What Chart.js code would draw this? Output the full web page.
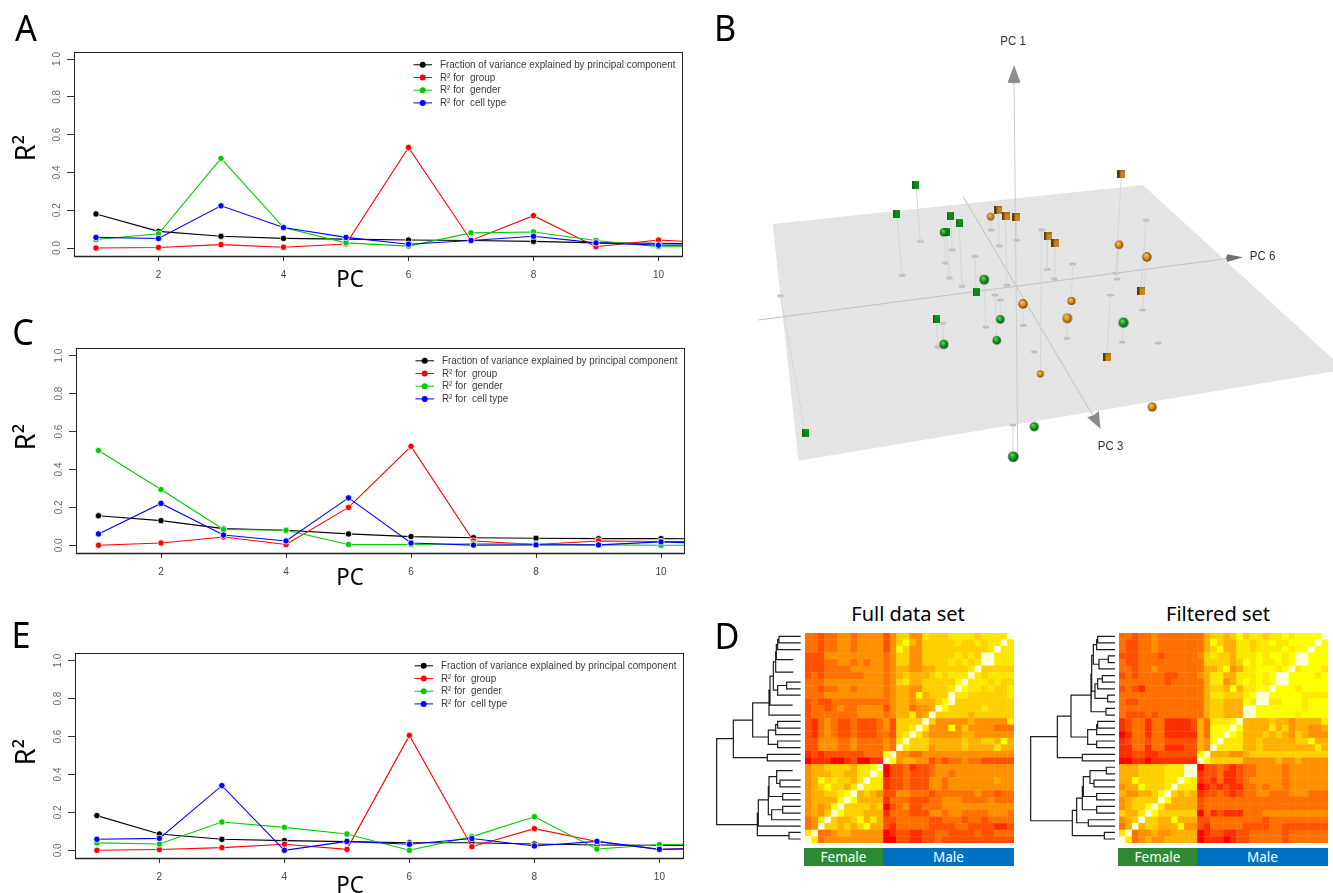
<!DOCTYPE html>
<html><head><meta charset="utf-8">
<style>
html,body{margin:0;padding:0;background:#fff;overflow:hidden}
#page{position:relative;width:1333px;height:893px;overflow:hidden;background:#fff}
canvas{position:absolute;display:block}
canvas.soft{filter:blur(.35px)}
.t{position:absolute;white-space:nowrap;font-family:"Noto Sans",sans-serif;color:#000;line-height:1;transform-origin:center}
.strip{position:absolute;color:#fff;font-family:"Noto Sans",sans-serif;font-size:13.5px;display:flex;align-items:center;justify-content:center}
</style>
<script src="https://cdn.jsdelivr.net/npm/chart.js@4/dist/chart.umd.js"></script>
</head><body><div id="page"></div>
<script>
/* ---------- line panels ---------- */
const pcs=[1,2,3,4,5,6,7,8,9,10,11];
const xTicks=[2,4,6,8,10];
const yTicks=[0,0.2,0.4,0.6,0.8,1];
const seriesNames=["Fraction of variance explained by principal component","R\u00B2 for  group","R\u00B2 for  gender","R\u00B2 for  cell type"];
const seriesColors=["#000000","#ff0000","#00cd00","#0000ff"];

const aBlack=[.18,.088,.062,.051,.047,.042,.04,.035,.027,.025,.022];
const aRed=[0,.003,.018,.004,.021,.532,.04,.171,.007,.042,.025];
const aGreen=[.045,.075,.474,.108,.027,.01,.08,.085,.04,.007,.005];
const aBlue=[.056,.05,.223,.108,.056,.02,.04,.062,.027,.015,.015];

const cBlack=[.156,.13,.088,.079,.06,.046,.04,.037,.035,.035,.033];
const cRed=[0,.012,.044,.004,.2,.522,.023,.004,.023,.02,.018];
const cGreen=[.5,.294,.083,.079,.004,.004,.008,.007,.002,0,0];
const cBlue=[.06,.221,.054,.023,.25,.012,.001,.002,.002,.018,.008];

const eBlack=[.183,.086,.058,.051,.046,.04,.04,.033,.028,.026,.025];
const eRed=[0,.004,.014,.032,.005,.606,.019,.114,.046,.005,.012];
const eGreen=[.039,.033,.149,.121,.086,0,.072,.177,.007,.03,.035];
const eBlue=[.058,.063,.341,0,.047,.032,.062,.023,.047,.005,.012];

/* ---------- 3D scatter, read in the projected plane: [x, y, shadowX, shadowY, radius] ---------- */
const planeOutline=[[180,612],[1097,495],[1597,1049],[244,1322],[180,612]];
const pc1Axis=[[787,1300],[778,180]];
const pc6Axis=[[145,900],[1310,715]];
const pc3Axis=[[652,530],[975,1190]];
const pc1Head=[[778,135],[794,188],[778,190],[762,188],[778,135]];
const pc6Head=[[1345,712],[1306,726],[1303,714],[1306,703],[1345,712]];
const pc3Head=[[992,1226],[959,1192],[975,1186],[988,1173],[992,1226]];
const greenCubes=[[535,496,546,664],[487,581,501,766],[620,588,625,689],[642,610,649,799],[610,637,618,773],[684,816,681,709],[586,898,589,980],[261,1240,199,827]];
const greenSpheres=[[604,637,608,728,4.1],[704,779,708,921,4.8],[604,973,601,910,4.5],[735,961,731,825,4.3],[744,898,744,840,4.3],[1049,908,1046,966,4.9],[828,1220,828,995,4.5],[776,1310,775,1215,5.3]];
const orangeCubes=[[1044,462,1030,759],[739,570,741,677],[757,589,760,795],[783,591,784,660],[861,649,860,748],[880,669,878,776],[1092,812,1105,601],[1008,1011,1017,825]];
const orangeSpheres=[[720,590,721,629,3.7],[1038,674,1033,777,4.3],[1107,711,1096,870,4.7],[800,852,801,916,4.7],[920,843,923,732,4.0],[910,895,909,955,4.8],[843,1062,846,629,3.4],[1120,1161,1135,969,4.5]];
const noDropLine=[828,1120];

/* ---------- heatmaps: one string per row, each digit a colour level ---------- */
const heatColors=["#ff0000","#ff2e00","#ff5000","#ff7000","#ff9000","#ffb000","#ffd000","#ffe800","#ffff00","#ffffd4"];
const fullRows=[
"33233443444424664476667777677779",
"33233443444424685466666766767797",
"33233443444424864466666666667977",
"22244444444434664466666767699777",
"22233443434434664466667676799777",
"22233334444434554455666667966666",
"23233333344434565556767779767777",
"33344444444434675566666897776766",
"33233443444434554466667987767667",
"33344444444434554856669776666667",
"23223333333334554555689666666666",
"23323433444424553445986666676666",
"23333333444434557459666665666666",
"21343223222342666696444445444447",
"21343223222342667974448464444333",
"21343223222332679754444455444444",
"22444334333343796665555565566585",
"22444334333343976664555565555755",
"12122222233389443344444444444444",
"01110012001198455442323343322222",
"45566665778902231223444444444444",
"45556655779802232223443444444444",
"45867665797712232224434444444544",
"45686657977712232224434444444444",
"45566789565422443332333333433233",
"45555898555513332223344433334333",
"45458966665602342233344444444444",
"45469866655513332224434433334443",
"34796556857522333332233323323333",
"34966565685521333332222332222112",
"79334554444401221122332222322333",
"97344444444400221122322222222222"];
const filteredRows=[
"33233433333335665686776778788889",
"32233433333335865577677877888898",
"32233433333335685577677778788988",
"22233323333346766577787887899888",
"32233333333336666568787787899888",
"33233433333335568457788878978887",
"23233332233345775577787899888878",
"33333332333335774578787899888888",
"23213333333335665857788988878888",
"33333333333335776667899888887777",
"32233333333335665558799778887888",
"33333333333335665559988888887888",
"32223233333335665559988888878888",
"12331331111253777895555655455557",
"12331331111253888985555756455445",
"01331331111153889875556565465444",
"12332332222254897775565555566855",
"11331331112254977775565555555575",
"11221122222289555445666666666666",
"00110111111198666664444454454444",
"55566667779902232123344443444444",
"55566667779912231123344443444444",
"55866667798712131123444443444444",
"45586667977701212113343443444444",
"54455689656512232123344333444333",
"45666698555523333333333333333333",
"45668975555523333333333333333333",
"65579866666603121113334444444444",
"45696655855522333333332333333333",
"35956655584421333332222332222222",
"79344544555501221122333332333333",
"97345445555501110122333332333333"];

/* ---------- dendrograms: each merge is [child A height, child A row, merge height, child B row, child B height] ---------- */
const fullTree=[[272,108,207,128,272],[207,118,203,148,272],[203,133,199,178,250],[199,155,197,216,250],[272,246,230,266,272],[230,256,203,285,272],[197,185,190,270,203],[190,228,180,315,248],[180,270,177,345,272],[272,364,203,384,272],[203,374,197,404,272],[272,423,203,443,272],[197,390,175,433,203],[177,308,128,411,175],[272,463,172,483,272],[128,360,70,473,172],[272,541,210,561,272],[248,512,200,551,210],[272,581,218,600,272],[200,530,177,590,218],[272,620,218,640,272],[218,630,185,660,272],[177,560,175,645,185],[175,600,145,679,272],[272,698,237,718,272],[145,640,142,708,237],[70,416,20,675,142]];
const filteredTree=[[270,108,218,128,270],[218,118,215,148,270],[270,167,250,187,270],[250,177,222,206,270],[215,133,205,192,222],[270,226,232,246,270],[232,236,218,266,270],[270,285,248,305,270],[218,251,210,295,248],[205,165,200,273,210],[270,325,243,345,270],[200,220,198,335,243],[270,364,218,384,270],[218,374,215,404,270],[270,423,215,443,270],[215,389,188,433,215],[198,285,138,411,188],[270,463,172,483,270],[138,348,97,473,172],[270,502,244,522,270],[270,541,207,561,270],[244,512,195,551,207],[270,581,215,600,270],[195,530,175,590,215],[270,620,215,640,270],[175,560,172,630,215],[270,660,190,679,270],[172,595,155,669,190],[270,698,238,718,270],[155,632,142,708,238],[97,410,17,663,142]];

/* ---------- layout helpers ---------- */
Chart.defaults.animation=false;
Chart.defaults.responsive=false;
Chart.defaults.devicePixelRatio=1;
const page=document.getElementById('page');
function addCanvas(x,y,w,h,soft){const c=document.createElement('canvas');c.width=w;c.height=h;c.style.left=x+'px';c.style.top=y+'px';c.style.width=w+'px';c.style.height=h+'px';if(soft)c.className='soft';page.appendChild(c);return c;}
function addText(txt,cx,cy,size,opt={}){const d=document.createElement('div');d.className='t';d.textContent=txt;d.style.left=cx+'px';d.style.top=cy+'px';d.style.fontSize=size+'px';if(opt.family)d.style.fontFamily=opt.family;if(opt.color)d.style.color=opt.color;d.style.transform='translate(-50%,-50%) '+(opt.tf||'');page.appendChild(d);}
function addStrip(txt,x,y,w,h,bg){const d=document.createElement('div');d.className='strip';d.textContent=txt;d.style.left=x+'px';d.style.top=y+'px';d.style.width=w+'px';d.style.height=h+'px';d.style.background=bg;page.appendChild(d);}

const boxAndLegend={id:'boxAndLegend',
 beforeDatasetsDraw(ch){const a=ch.chartArea,c=ch.ctx;c.save();c.strokeStyle='#222';c.lineWidth=1;c.strokeRect(Math.round(a.left)+.5,Math.round(a.top)+.5,Math.round(a.right-a.left),Math.round(a.bottom-a.top));c.beginPath();c.lineWidth=1.4;c.moveTo(a.left,a.bottom+.5);c.lineTo(a.right,a.bottom+.5);c.stroke();c.restore();},
 afterDatasetsDraw(ch){const a=ch.chartArea,c=ch.ctx;c.save();const x0=a.right-268.5,y0=a.top+12.8,step=12.7;
  ch.data.datasets.forEach((d,i)=>{const y=y0+i*step;c.strokeStyle=d.borderColor;c.lineWidth=1;c.beginPath();c.moveTo(x0,y);c.lineTo(x0+18.5,y);c.stroke();c.fillStyle=d.borderColor;c.beginPath();c.arc(x0+9.2,y,3,0,7);c.fill();
   c.save();c.translate(x0+26.5,y);c.scale(.985,1.12);c.fillStyle='#3a3a3a';c.font='10px "Liberation Sans"';c.textBaseline='middle';c.fillText(d.label,0,0);c.restore();});
  c.restore();}};

function linePanel(box,series){
 const pad=10,under=40;
 const cv=addCanvas(0,box.top-pad,box.right+18,box.bottom-box.top+pad+under,true);
 const xPer=(box.x10-box.x2)/8, yPer=(box.y0-box.y1);
 new Chart(cv,{type:'line',plugins:[boxAndLegend],
  data:{labels:pcs,datasets:series.map((s,i)=>({label:seriesNames[i],data:pcs.map((p,j)=>({x:p,y:s[j]})),borderColor:seriesColors[i],backgroundColor:seriesColors[i],borderWidth:1.1,pointRadius:3.2,pointBorderColor:'#fff',pointBorderWidth:.8,tension:0,order:i===0?3:(3-i)}))},
  options:{parsing:false,layout:{autoPadding:false,padding:{top:pad,left:0,right:18,bottom:0}},
   plugins:{legend:{display:false},tooltip:{enabled:false}},
   scales:{
    x:{type:'linear',min:2-(box.x2-box.left)/xPer,max:10+(box.right-box.x10)/xPer,afterBuildTicks:s=>{s.ticks=xTicks.map(v=>({value:v}));},afterFit:s=>{s.height=under;},
      grid:{drawOnChartArea:false,tickLength:5,tickColor:'#333',tickWidth:1},border:{display:false},
      ticks:{autoSkip:false,maxRotation:0,minRotation:0,padding:8,color:'#444',font:{family:'"Liberation Sans"',size:10}}},
    y:{type:'linear',min:-(box.bottom-box.y0)/yPer,max:1+(box.y1-box.top)/yPer,afterBuildTicks:s=>{s.ticks=yTicks.map(v=>({value:v}));},afterFit:s=>{s.width=box.left;},
      grid:{drawOnChartArea:false,tickLength:7,tickColor:'#333',tickWidth:1},border:{display:false},
      ticks:{autoSkip:false,minRotation:90,maxRotation:90,crossAlign:'center',padding:3,color:'#666',callback:v=>v.toFixed(1),font:{family:'"Liberation Sans"',size:10}}}
   }}});
}
linePanel({left:74,right:682,top:52,bottom:256,y1:59,y0:248,x2:158.5,x10:658.5},[aBlack,aRed,aGreen,aBlue]);
linePanel({left:76,right:684,top:348,bottom:553,y1:355.7,y0:545.3,x2:161,x10:661},[cBlack,cRed,cGreen,cBlue]);
linePanel({left:75,right:683,top:653,bottom:858,y1:660.7,y0:850.3,x2:159.4,x10:659.4},[eBlack,eRed,eGreen,eBlue]);

/* ---------- panel B ---------- */
function sprite(w,h,draw){const s=document.createElement('canvas');s.width=w;s.height=h;draw(s.getContext('2d'),w,h);return s;}
function sphere(r,light,mid,dark){const R=Math.ceil(r)+1;return sprite(R*2,R*2,(c)=>{const g=c.createRadialGradient(R-r*.3,R-r*.4,r*.1,R,R,r);g.addColorStop(0,light);g.addColorStop(.55,mid);g.addColorStop(1,dark);c.fillStyle=g;c.beginPath();c.arc(R,R,r,0,7);c.fill();});}
const greenCube=sprite(7,8,(c,w,h)=>{c.fillStyle='#078a1c';c.fillRect(0,0,w,h);c.fillStyle='#0a6a18';c.fillRect(0,0,1.5,h);c.fillStyle='#0a9a22';c.fillRect(1.5,0,w,1.5)});
const orangeCube=sprite(8,8,(c,w,h)=>{c.fillStyle='#c8841c';c.fillRect(0,0,w,h);c.fillStyle='#5a3a08';c.fillRect(0,0,2.5,h);c.fillStyle='#a06a14';c.fillRect(2.5,0,w,1.5)});
const shadow=sprite(8,4,(c)=>{c.fillStyle='#bcbcbc';c.beginPath();c.ellipse(4,2,3.4,1.6,0,0,7);c.fill();});
const xy=a=>a.map(p=>({x:p[0],y:p[1]}));
const allMarks=[...greenCubes,...greenSpheres,...orangeCubes,...orangeSpheres];
const dropData=[];allMarks.forEach(m=>{if(noDropLine.includes(m[0]))return;dropData.push({x:m[0],y:m[1]},{x:m[2],y:m[3]},{x:null,y:null});});
const shadowData=allMarks.map(m=>({x:m[2],y:m[3]}));
const sphereSprites=(list,l,m,d)=>list.map(p=>sphere(p[4],l,m,d));
const gs=sphereSprites(greenSpheres,'#5ed85e','#129a1a','#0a4a10');
const os=sphereSprites(orangeSpheres,'#f8c050','#dc8c10','#6a4204');
const lineSet=(data,color,w,order)=>({data:xy(data),showLine:true,borderColor:color,borderWidth:w,pointRadius:0,order});
const polySet=(data,color,order)=>({data:xy(data),showLine:true,borderColor:color,borderWidth:0,backgroundColor:color,fill:'shape',pointRadius:0,order});
new Chart(addCanvas(700,20,633,460,true),{type:'scatter',data:{datasets:[
  polySet(planeOutline,'#e4e4e4',10),
  lineSet(pc6Axis,'#c0c0c0',1,9),
  lineSet(pc3Axis,'#c0c0c0',1,9),
  {data:shadowData,pointStyle:shadow,pointRadius:3,order:8},
  {data:dropData,showLine:true,spanGaps:false,borderColor:'#d6d6d6',borderWidth:1,pointRadius:0,order:7},
  lineSet(pc1Axis,'#cccccc',1,6),
  polySet(pc1Head,'#8e8e8e',5),polySet(pc3Head,'#8a8a8a',5),polySet(pc6Head,'#707070',5),
  {data:xy(greenCubes),pointStyle:greenCube,pointRadius:4,order:4},
  {data:xy(orangeCubes),pointStyle:orangeCube,pointRadius:4,order:4},
  {data:xy(greenSpheres),pointStyle:gs,pointRadius:5,order:3},
  {data:xy(orangeSpheres),pointStyle:os,pointRadius:5,order:3}
 ]},options:{parsing:false,layout:{autoPadding:false,padding:0},plugins:{legend:{display:false},tooltip:{enabled:false}},
  scales:{x:{display:false,min:0,max:1568},y:{display:false,min:0,max:1380,reverse:true}}}});
addText('PC 1',1013,40.5,11.5,{family:'"Liberation Sans"',color:'#333',tf:'scale(1,1.1)'});
addText('PC 6',1262.5,255.5,11.5,{family:'"Liberation Sans"',color:'#333',tf:'scale(1,1.1)'});
addText('PC 3',1110.5,446,11.5,{family:'"Liberation Sans"',color:'#333',tf:'scale(1,1.1)'});

/* ---------- panel D ---------- */
function heatPanel(rows,x,y,w,h){
 const cells=[];rows.forEach((row,r)=>[...row].forEach((ch,c)=>cells.push({x:c,y:r,v:+ch})));
 new Chart(addCanvas(x,y,w,h),{type:'scatter',data:{datasets:[{data:cells,pointStyle:'rect',pointRadius:4.9,pointBorderWidth:0,pointBackgroundColor:ctx=>heatColors[ctx.raw.v]}]},
  options:{parsing:false,layout:{autoPadding:false,padding:0},plugins:{legend:{display:false},tooltip:{enabled:false}},
  scales:{x:{display:false,min:-.5,max:31.5},y:{display:false,min:-.5,max:31.5,reverse:true}}}});
}
function treePanel(tree,x,y,w,h,xMax){
 const segs=[];tree.forEach(([ha,ya,m,yb,hb])=>{segs.push({x:ha,y:ya},{x:m,y:ya},{x:m,y:yb},{x:hb,y:yb},{x:null,y:null});});
 new Chart(addCanvas(x,y,w,h),{type:'scatter',data:{datasets:[{data:segs,showLine:true,spanGaps:false,borderColor:'#1c1c1c',borderWidth:1.2,pointRadius:0}]},
  options:{parsing:false,layout:{autoPadding:false,padding:0},plugins:{legend:{display:false},tooltip:{enabled:false}},
  scales:{x:{display:false,min:0,max:xMax},y:{display:false,min:98,max:730,reverse:true}}}});
}
heatPanel(fullRows,805,633,209,210);
heatPanel(filteredRows,1119,633,209,210);
treePanel(fullTree,710,633,95,210,285);
treePanel(filteredTree,1025,633,94,210,282);
addStrip('Female',804,848,79,18,'#2d8a33');
addStrip('Male',883,848,131,18,'#0070c0');
addStrip('Female',1118,848,79,18,'#2d8a33');
addStrip('Male',1197,848,131,18,'#0070c0');
addText('Full data set',908,614,20);
addText('Filtered set',1218,614,20);

/* ---------- hand-placed labels ---------- */
addText('A',25.5,28,36,{tf:'scaleX(.95)'});
addText('B',724.5,28,36,{tf:'scaleX(.95)'});
addText('C',23,331.5,36,{tf:'scaleX(.95)'});
addText('D',726.5,635.5,36,{tf:'scaleX(.95)'});
addText('E',21,634.5,36,{tf:'scaleX(.95)'});
[147.5,437,751.5].forEach(y=>addText('R\u00B2',24,y,27,{tf:'rotate(-90deg)'}));
[277.5,576,884].forEach(y=>addText('PC',350,y,24,{tf:'scaleX(.93)'}));
</script></body></html>
